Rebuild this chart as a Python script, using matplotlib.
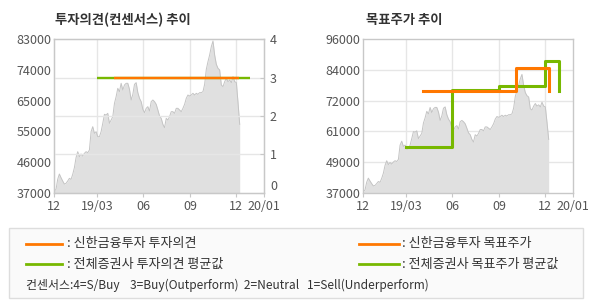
import numpy as np
import pandas as pd
import matplotlib
matplotlib.use("Agg")
import matplotlib.pyplot as plt
from matplotlib.patches import Rectangle
from matplotlib.lines import Line2D

plt.rcParams['font.family'] = ['Noto Sans CJK KR', 'DejaVu Sans']

# ---------------- data ----------------
price_start = "2018-12-06"
price_end = "2019-12-09"
price = [37500, 38000, 41000, 42600, 41500, 40500, 39600, 39800, 40500, 41300,
         41000, 42500, 44500, 47500, 49300, 47800, 48600, 48000, 48800, 49300,
         49000, 49800, 55300, 56800, 54800, 55300, 53800, 53800, 55300, 57800,
         60500, 60300, 60800, 57800, 58800, 59800, 63800, 65800, 68300, 67300,
         69800, 67800, 69300, 69800, 69800, 68000, 64800, 66500, 69500, 70000,
         67000, 65300, 64300, 62000, 61000, 62300, 62800, 61500, 64300, 64800,
         64300, 63500, 61800, 60000, 59300, 57500, 56500, 59300, 58800, 59800,
         61300, 61300, 60800, 62300, 62300, 61800, 61300, 62300, 63500, 65300,
         66300, 66000, 66300, 66800, 66300, 66800, 66500, 67000, 67000, 67300,
         69500, 74000, 76300, 78300, 80800, 82500, 78300, 75500, 74300, 73800,
         69300, 68800, 70300, 71300, 70300, 70800, 70000, 71800, 70300, 70000,
         64000, 57500]

opinion_shinhan_dates = ["2019-04-03", "2019-12-07"]
opinion_shinhan = [3, 3]
opinion_cons_dates = ["2019-03-01", "2019-12-30"]
opinion_cons = [3, 3]

target_shinhan_dates = ["2019-04-03", "2019-10-05", "2019-12-09"]
target_shinhan = [76000, 85000, 76000]
target_cons_dates = ["2019-03-01", "2019-06-01", "2019-09-01", "2019-12-02", "2019-12-30"]
target_cons = [54700, 76600, 78000, 87800, 76100]

x_start = "2018-12-06"
x_end = "2020-01-27"
x_tick_dates = ["2018-12-06", "2019-03-01", "2019-06-01", "2019-09-01", "2019-12-01", "2020-01-27"]
x_tick_labels = ["12", "19/03", "06", "09", "12", "20/01"]

left_ylim = (37000, 83000)
left_ytick_labels = ["37000", "46000", "55000", "65000", "74000", "83000"]
left_y2_labels = ["0", "1", "2", "3", "4"]
right_ylim = (37000, 96000)
right_ytick_labels = ["37000", "49000", "61000", "72000", "84000", "96000"]

legend_items = [": 신한금융투자 투자의견", ": 전체증권사 투자의견 평균값",
                ": 신한금융투자 목표주가", ": 전체증권사 목표주가 평균값"]
consensus_note = "컨센서스:4=S/Buy    3=Buy(Outperform)  2=Neutral   1=Sell(Underperform)"

# ---------------- style ----------------
ORANGE = "#ff7700"
GREEN = "#77b800"
FILL = "#e0e0e0"
FILL_EDGE = "#c4c4c4"
SPINE = "#c8c8c8"
GRID = "#e6e6e6"
TXT = "#555555"
TICKFS = 9.0

fig = plt.figure(figsize=(5.9, 3.0), dpi=100)
fig.patch.set_facecolor("white")

dates = pd.date_range(price_start, price_end, periods=len(price))
xt = pd.to_datetime(x_tick_dates)
xl = (pd.Timestamp(x_start), pd.Timestamp(x_end))


def style_axes(ax):
    for s in ax.spines.values():
        s.set_color(SPINE)
        s.set_linewidth(1.0)
    ax.set_xlim(*xl)
    ax.set_xticks(xt)
    ax.set_xticklabels(x_tick_labels, fontsize=TICKFS, color=TXT)
    ax.tick_params(axis='x', length=3, color=SPINE, pad=2.5)
    ax.tick_params(axis='y', length=0, labelsize=TICKFS, labelcolor=TXT, pad=2)
    for d in xt[1:-1]:
        ax.axvline(d, color=GRID, lw=1.0, zorder=0.5)


# ---- left chart ----
axL = fig.add_axes([0.0921, 0.3577, 0.356, 0.5113])
style_axes(axL)
axL.fill_between(dates, left_ylim[0], price, color=FILL, lw=0, zorder=1)
axL.plot(dates, price, color=FILL_EDGE, lw=0.7, zorder=1.5)
axL.set_ylim(*left_ylim)
axL.set_yticks(np.linspace(left_ylim[0], left_ylim[1], len(left_ytick_labels)))
axL.set_yticklabels(left_ytick_labels)

axL2 = axL.twinx()
axL2.set_ylim(0, 4)
axL2.set_yticks(range(len(left_y2_labels)))
axL2.set_yticklabels(left_y2_labels)
axL2.tick_params(axis='y', length=3, direction='in', color=SPINE, labelsize=TICKFS, labelcolor=TXT, pad=4)
for s in axL2.spines.values():
    s.set_color(SPINE)
for v in [1, 2, 3]:
    axL2.axhline(v, color=GRID, lw=1.0, zorder=0.5)
axL2.plot(pd.to_datetime(opinion_cons_dates), opinion_cons, color=GREEN, lw=1.7, solid_capstyle='butt')
axL2.plot(pd.to_datetime(opinion_shinhan_dates), opinion_shinhan, color=ORANGE, lw=1.7, solid_capstyle='butt')
axL2.set_xlim(*xl)
for lab in axL2.get_yticklabels():
    if lab.get_text() == "0":
        lab.set_verticalalignment('bottom')

fig.text(0.0932, 0.932, "투자의견(컨센서스) 추이", fontsize=9.6, fontweight='bold', color="#333333",
         ha='left', va='center')

# ---- right chart ----
axR = fig.add_axes([0.6158, 0.3577, 0.356, 0.5113])
style_axes(axR)
axR.fill_between(dates, right_ylim[0], price, color=FILL, lw=0, zorder=1)
axR.plot(dates, price, color=FILL_EDGE, lw=0.7, zorder=1.5)
axR.set_ylim(*right_ylim)
rt = np.linspace(right_ylim[0], right_ylim[1], len(right_ytick_labels))
axR.set_yticks(rt)
axR.set_yticklabels(right_ytick_labels)
for v in rt[1:-1]:
    axR.axhline(v, color=GRID, lw=1.0, zorder=0.5)
axR.plot(pd.to_datetime(target_cons_dates), target_cons, color=GREEN, lw=2.2,
         drawstyle='steps-post', zorder=3)
axR.plot(pd.to_datetime(target_shinhan_dates), target_shinhan, color=ORANGE, lw=2.2,
         drawstyle='steps-post', zorder=3)

fig.text(0.621, 0.932, "목표주가 추이", fontsize=9.6, fontweight='bold', color="#333333",
         ha='left', va='center')

# ---- legend box ----
W, H = 590.0, 300.0
box = Rectangle((8.5 / W, 1 - 298 / H), (582.5 - 8.5) / W, (298 - 227.5) / H,
                transform=fig.transFigure, facecolor="#fafafa", edgecolor="#dddddd", lw=1.0)
fig.patches.append(box)

rows_y = [243.5, 264.3]
cols = [(25.7, 62.4, 67.0), (359.0, 399.0, 401.5)]
colors = [ORANGE, GREEN]
k = 0
for c in cols:
    for r, y in enumerate(rows_y):
        x0, x1, xt0 = c
        fig.lines.append(Line2D([x0 / W, x1 / W], [1 - y / H, 1 - y / H], transform=fig.transFigure,
                                color=colors[r], lw=2.0))
        fig.text(xt0 / W, 1 - y / H, legend_items[k], fontsize=9.4, color="#333333",
                 ha='left', va='center')
        k += 1

fig.text(25.7 / W, 1 - 285 / H, consensus_note, fontsize=8.6, color="#333333", ha='left', va='center')

fig.savefig("out.png", dpi=100, facecolor="white")
